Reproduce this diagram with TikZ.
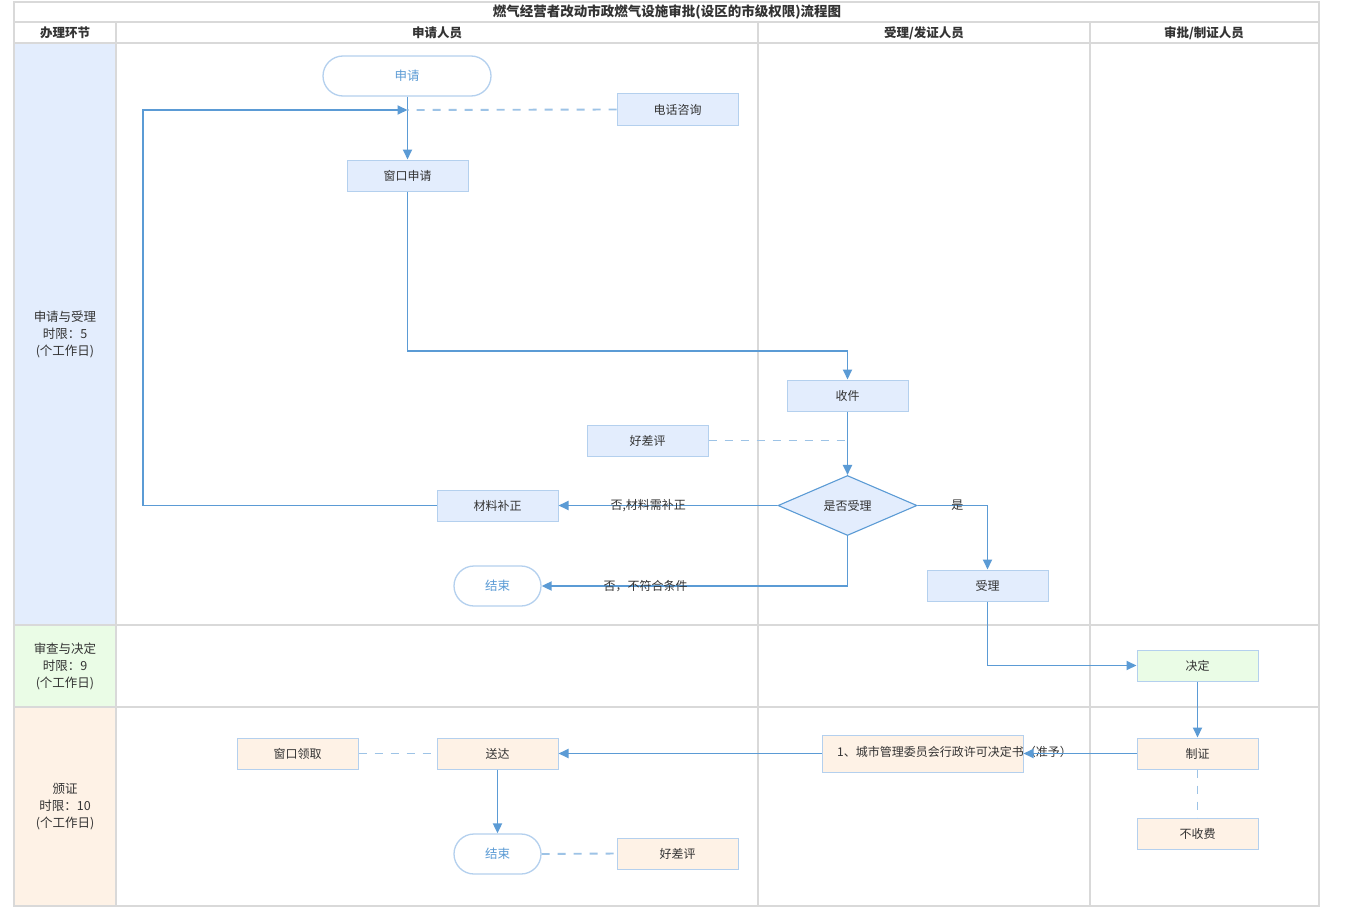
\documentclass[tikz,border=0pt]{standalone}
\usepackage{fontspec}
\newfontfamily\cjk{Noto Sans CJK SC}
\setmainfont{Noto Sans CJK SC}
\usetikzlibrary{arrows.meta,shapes.geometric}
\definecolor{gridgray}{HTML}{D9D9D9}
\definecolor{lineblue}{HTML}{5B9BD5}
\definecolor{dashblue}{HTML}{9DC3E6}
\definecolor{boxborder}{HTML}{B4D0EE}
\definecolor{fillblue}{HTML}{E3EDFD}
\definecolor{fillgreen}{HTML}{EAFCE6}
\definecolor{fillorange}{HTML}{FEF2E6}
\definecolor{txt}{HTML}{333333}
\begin{document}
\begin{tikzpicture}[x=1pt,y=-1pt,
  grid/.style={draw=gridgray,line width=2pt},
  box/.style={draw=boxborder,line width=1pt,minimum width=121pt,minimum height=31pt,inner sep=0pt,text=txt,font=\cjk\fontsize{12}{14}\selectfont},
  bbox/.style={box,fill=fillblue},
  obox/.style={box,fill=fillorange},
  gbox/.style={box,fill=fillgreen},
  term/.style={draw=boxborder,line width=1.3pt,fill=white,rounded corners=20pt,minimum height=40pt,inner sep=0pt,text=lineblue,font=\cjk\fontsize{12.5}{14}\selectfont},
  decision/.style={diamond,draw=lineblue,line width=1.1pt,fill=fillblue,minimum width=139pt,minimum height=60pt,inner sep=0pt,text=txt,font=\cjk\fontsize{12}{14}\selectfont},
  flow/.style={draw=lineblue,line width=1.9pt,-{Triangle[length=10pt,width=9pt]}},
  dashline/.style={draw=dashblue,line width=1.9pt,dash pattern=on 8pt off 8pt},
  lanelabel/.style={align=center,text=txt,font=\cjk\fontsize{12.5}{17}\selectfont},
  head/.style={text=txt,font=\cjk\bfseries\fontsize{12.5}{14}\selectfont},
  elabel/.style={text=txt,font=\cjk\fontsize{12}{14}\selectfont,inner sep=1pt}
]
\useasboundingbox (0,0) rectangle (1350,907);
\fill[white] (0,0) rectangle (1350,907);
% lane column fills
\fill[fillblue] (14,43) rectangle (116,625);
\fill[fillgreen] (14,625) rectangle (116,707);
\fill[fillorange] (14,707) rectangle (116,906);
% grid
\draw[grid] (14,2) rectangle (1319,906);
\draw[grid] (14,22) -- (1319,22);
\draw[grid] (14,43) -- (1319,43);
\draw[grid] (14,625) -- (1319,625);
\draw[grid] (14,707) -- (1319,707);
\draw[grid] (116,22) -- (116,906);
\draw[grid] (758,22) -- (758,906);
\draw[grid] (1090,22) -- (1090,906);
% titles
\node[head,font=\cjk\bfseries\fontsize{13.5}{15}\selectfont] (title) at (667,12.5) {燃气经营者改动市政燃气设施审批(设区的市级权限)流程图};
\node[head] (h1) at (65,33) {办理环节};
\node[head] (h2) at (437,33) {申请人员};
\node[head] (h3) at (924,33) {受理/发证人员};
\node[head] (h4) at (1204,33) {审批/制证人员};
\node[lanelabel] (l1) at (65,334) {申请与受理\\时限：5\\(个工作日)};
\node[lanelabel] (l2) at (65,666) {审查与决定\\时限：9\\(个工作日)};
\node[lanelabel] (l3) at (65,807) {颁证\\时限：10\\(个工作日)};
% nodes
\node[term,minimum width=168pt] (start) at (407,76) {申请};
\node[bbox] (tel) at (677.5,109.5) {电话咨询};
\node[bbox] (win) at (407.5,175.5) {窗口申请};
\node[bbox] (recv) at (847.5,395.5) {收件};
\node[bbox] (eval1) at (647.5,440.5) {好差评};
\node[decision] (dec) at (847.5,505.5) {是否受理};
\node[bbox] (supp) at (497.5,505.5) {材料补正};
\node[term,minimum width=87pt] (end1) at (497.5,586) {结束};
\node[bbox] (acc) at (987.5,585.5) {受理};
\node[gbox] (decide) at (1197.5,665.5) {决定};
\node[obox] (cert) at (1197.5,753.5) {制证};
\node[obox] (free) at (1197.5,833.5) {不收费};
\node[obox,minimum width=201pt,minimum height=37pt] (doc) at (922.5,753.5) {};
\node[anchor=west,elabel] (doctext) at (836,751.5) {1、城市管理委员会行政许可决定书（准予）};
\node[obox] (send) at (497.5,753.5) {送达};
\node[obox] (pick) at (297.5,753.5) {窗口领取};
\node[term,minimum width=87pt] (end2) at (497.5,854) {结束};
\node[obox] (eval2) at (677.5,853.5) {好差评};
\coordinate (jn) at (407.5,110);
% connectors
\draw[flow] (start.south -| win.north) -- (win.north);
\draw[dashline] (tel.west) -- (jn);
\draw[flow] (supp.west) -- (143,505.5) -- (143,110) -- (jn);
\draw[flow] (win.south) -- (407.5,351) -- (847.5,351) -- (recv.north);
\draw[flow] (recv.south) -- (dec.north);
\draw[dashline] (eval1.east) -- (847.5,440.5);
\draw[flow] (dec.west) -- node[elabel,pos=0.59] {否,材料需补正} (supp.east);
\draw[flow] (dec.south) -- (847.5,586) -- node[elabel,pos=0.66] {否，不符合条件} (end1.east);
\draw[flow] (dec.east) -- node[elabel,pos=0.57] {是} (987.5,505.5) -- (acc.north);
\draw[flow] (acc.south) -- (987.5,665.5) -- (decide.west);
\draw[flow] (decide.south) -- (cert.north);
\draw[flow] (cert.west) -- (doc.east);
\draw[flow] (doc.west) -- (send.east);
\draw[dashline] (pick.east) -- (send.west);
\draw[flow] (send.south) -- (end2.north);
\draw[dashline] (end2.east) -- (eval2.west);
\draw[dashline] (cert.south) -- (free.north);
\end{tikzpicture}
\end{document}
